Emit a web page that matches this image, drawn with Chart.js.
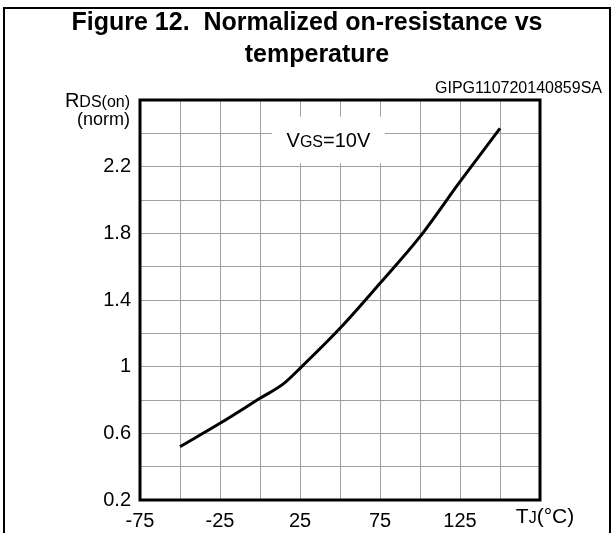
<!DOCTYPE html>
<html>
<head>
<meta charset="utf-8">
<script src="https://cdn.jsdelivr.net/npm/chart.js@4/dist/chart.umd.min.js"></script>
<style>
  html, body { margin: 0; padding: 0; background: #fff; }
  #wrap { width: 614px; height: 533px; position: relative; }
</style>
</head>
<body>
<div id="wrap"><canvas id="grafica"></canvas></div>
<script>
const FUENTE = '"Liberation Sans", Arial, sans-serif'
const TITULO = ['Figure 12.  Normalized on-resistance vs', 'temperature']
const CODIGO = 'GIPG110720140859SA'

// datos
const temperaturas = [-50, -25, 0, 15, 25, 50, 75, 100, 125, 150]
const rdsNorm = [0.52, 0.66, 0.81, 0.90, 0.99, 1.23, 1.50, 1.78, 2.11, 2.43]
const ticksX = [-75, -25, 25, 75, 125]
const ticksY = [0.2, 0.6, 1, 1.4, 1.8, 2.2]

// texto con subindice: [texto, tamaño]
function textoMixto(ctx, partes, x, y) {
  partes.forEach(([t, tam]) => {
    ctx.font = tam + 'px ' + FUENTE
    ctx.fillText(t, x, y)
    x += ctx.measureText(t).width
  })
}
function anchoMixto(ctx, partes) {
  let w = 0
  partes.forEach(([t, tam]) => {
    ctx.font = tam + 'px ' + FUENTE
    w += ctx.measureText(t).width
  })
  return w
}

const extras = {
  id: 'extras',
  beforeDraw(chart) {
    const ctx = chart.ctx
    ctx.save()
    ctx.fillStyle = '#fff'
    ctx.fillRect(0, 0, chart.width, chart.height)
    ctx.restore()
  },
  afterDatasetsDraw(chart) {
    const ctx = chart.ctx
    const area = chart.chartArea
    const x = chart.scales.x
    const y = chart.scales.y
    ctx.save()

    // marco del area
    ctx.strokeStyle = '#000'
    ctx.lineWidth = 3
    ctx.strokeRect(area.left, area.top, area.right - area.left, area.bottom - area.top)

    // marco de la figura
    ctx.lineWidth = 2
    ctx.beginPath()
    ctx.moveTo(4, chart.height)
    ctx.lineTo(4, 8)
    ctx.lineTo(610, 8)
    ctx.lineTo(610, chart.height)
    ctx.stroke()

    // titulo
    ctx.fillStyle = '#000'
    ctx.textAlign = 'center'
    ctx.textBaseline = 'alphabetic'
    ctx.font = 'bold 25px ' + FUENTE
    ctx.fillText(TITULO[0], 307, 30)
    ctx.fillText(TITULO[1], 317, 62)

    ctx.textAlign = 'right'
    ctx.font = '16px ' + FUENTE
    ctx.fillText(CODIGO, 602, 93)

    // etiqueta eje y
    ctx.textAlign = 'left'
    const ety = [['R', 20], ['DS(on)', 16]]
    textoMixto(ctx, ety, area.left - 10 - anchoMixto(ctx, ety), 107)
    ctx.textAlign = 'right'
    ctx.font = '18px ' + FUENTE
    ctx.fillText('(norm)', area.left - 10, 125)

    // etiqueta eje x
    ctx.textAlign = 'left'
    const etx = [['T', 21], ['J', 16], ['(°C)', 21]]
    textoMixto(ctx, etx, x.getPixelForValue(175) + 5 - anchoMixto(ctx, etx) / 2, 523)

    // anotacion VGS
    const bx0 = x.getPixelForValue(7.5), bx1 = x.getPixelForValue(78)
    const by0 = y.getPixelForValue(2.5), by1 = y.getPixelForValue(2.22)
    ctx.fillStyle = '#fff'
    ctx.fillRect(bx0, by0, bx1 - bx0, by1 - by0)
    ctx.fillStyle = '#000'
    const vgs = [['V', 20], ['GS', 16], ['=10V', 20]]
    textoMixto(ctx, vgs, (bx0 + bx1) / 2 - anchoMixto(ctx, vgs) / 2, y.getPixelForValue(2.36) + 7)

    ctx.restore()
  }
}

new Chart(document.getElementById('grafica'), {
  type: 'line',
  data: {
    datasets: [{
      data: temperaturas.map((t, i) => ({ x: t, y: rdsNorm[i] })),
      borderColor: '#000',
      borderWidth: 3,
      pointRadius: 0,
      fill: false,
      cubicInterpolationMode: 'monotone'
    }]
  },
  options: {
    responsive: true,
    maintainAspectRatio: false,
    animation: false,
    layout: { padding: { left: 0, top: 100, right: 74, bottom: 0 } },
    plugins: { legend: { display: false }, tooltip: { enabled: false } },
    scales: {
      x: {
        type: 'linear',
        min: -75,
        max: 175,
        afterFit(scale) { scale.height = 33 },
        grid: { color: '#a0a0a0', lineWidth: 1, drawTicks: false },
        border: { display: false },
        ticks: {
          stepSize: 25,
          padding: 9,
          maxRotation: 0,
          autoSkip: false,
          color: '#000',
          font: { family: FUENTE, size: 20 },
          callback: v => ticksX.includes(v) ? String(v) : ''
        }
      },
      y: {
        min: 0.2,
        max: 2.6,
        afterFit(scale) { scale.width = 140 },
        grid: { color: '#a0a0a0', lineWidth: 1, drawTicks: false },
        border: { display: false },
        ticks: {
          stepSize: 0.2,
          padding: 9,
          autoSkip: false,
          color: '#000',
          font: { family: FUENTE, size: 20 },
          callback: v => {
            const r = Math.round(v * 10) / 10
            return ticksY.includes(r) ? String(r) : ''
          }
        }
      }
    }
  },
  plugins: [extras]
})
</script>
</body>
</html>
